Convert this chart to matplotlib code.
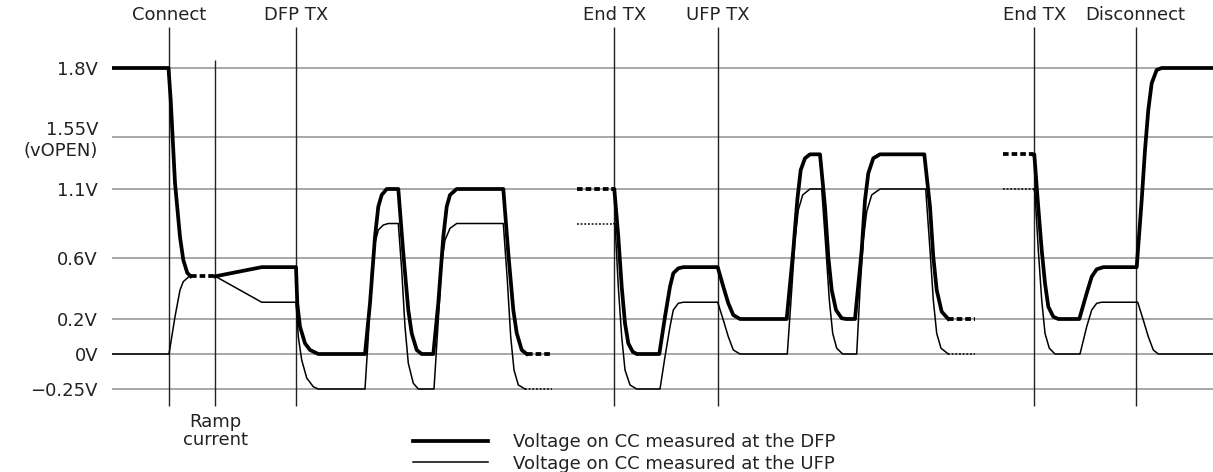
import numpy as np
import matplotlib
matplotlib.use("Agg")
import matplotlib.pyplot as plt
import matplotlib.transforms as mtransforms

plt.rcParams['font.family'] = ['DejaVu Sans']

## Voltage levels drawn as grid lines (the axis is a schematic, not linear)
grid_v = [1.8, 1.55, 1.1, 0.6, 0.2, 0.0, -0.25]
grid_labels = ["1.8V", "1.55V\n(vOPEN)", "1.1V", "0.6V", "0.2V", "0V", "\u22120.25V"]

## Events along the time axis (arbitrary time units)
event_t = [169, 296, 614.3, 717.7, 1034.3, 1135.7]
event_names = ["Connect", "DFP TX", "End TX", "UFP TX", "End TX", "Disconnect"]
ramp_t = 215.3

## Voltage on CC measured at the DFP (thick)
dfp_connect_t = [112, 168.5, 170.7, 175, 180, 183.3, 187.3, 190.7]
dfp_connect_v = [1.8, 1.8, 1.684, 1.152, 0.752, 0.587, 0.502, 0.48]
dfp_tx1_t = [215.3, 261.7, 296, 297.3, 300, 305, 310, 318.3, 365, 370, 375, 378.3, 381.7,
             386.7, 398.3, 403.3, 408.3, 411.7, 416.7, 421.7, 433.3, 438.3, 443.3, 446.7,
             450, 456.7, 503.3, 508.3, 513.3, 516.7, 521.7, 526.7]
dfp_tx1_v = [0.48, 0.54, 0.54, 0.30, 0.156, 0.061, 0.023, 0, 0, 0.303, 0.754, 0.972, 1.057,
             1.1, 1.1, 0.634, 0.259, 0.118, 0.023, 0, 0, 0.305, 0.754, 0.972,
             1.057, 1.1, 1.1, 0.634, 0.259, 0.12, 0.023, 0]
dfp_tx2_t = [613.3, 614.3, 618.3, 621.7, 625, 628.3, 632.7, 636.7, 659.3, 665, 670, 673.3,
             678.3, 683.3, 717.7, 723.3, 728.3, 733.3, 740, 786.7, 793.3, 797.3, 800.7, 805,
             810, 820, 825, 828.3, 831.7, 836, 841.7, 846, 855, 861.7, 865, 868.3, 873.3,
             880, 924.3, 930, 933.3, 936.7, 941.7, 948.3]
dfp_tx2_v = [1.1, 1.1, 0.754, 0.412, 0.175, 0.061, 0.013, 0, 0, 0.215, 0.412, 0.5,
             0.532, 0.54, 0.54, 0.412, 0.303, 0.226, 0.2, 0.2, 0.658, 1.02, 1.264, 1.366,
             1.40, 1.40, 0.972, 0.609, 0.39, 0.259, 0.205, 0.2, 0.2, 0.658, 1.02, 1.236, 1.366,
             1.40, 1.40, 0.972, 0.609, 0.39, 0.248, 0.2]
dfp_end_t = [1033.3, 1034.3, 1037.7, 1041.7, 1045, 1048.3, 1053.3, 1058.3, 1079.3, 1086.7,
             1091.7, 1096.7, 1103.3, 1136.7, 1141.7, 1145, 1148.3, 1151.7, 1156.7, 1161.7, 1213]
dfp_end_v = [1.40, 1.40, 1.02, 0.658, 0.434, 0.281, 0.215, 0.2, 0.2, 0.369,
             0.477, 0.526, 0.54, 0.54, 1.02, 1.437, 1.648, 1.745, 1.793, 1.8, 1.8]
# dashed pieces: (t0, t1, level)
dfp_dash_t0 = [190.7, 526.7, 576.7, 948.3, 1003.3]
dfp_dash_t1 = [215.3, 552, 613.3, 975, 1033.3]
dfp_dash_v = [0.48, 0, 1.1, 0.2, 1.40]

## Voltage on CC measured at the UFP (thin)
ufp_connect_t = [112, 169, 175, 180, 183.3, 189.3]
ufp_connect_v = [0, 0, 0.215, 0.39, 0.445, 0.48]
ufp_tx1_t = [215.3, 261.7, 296, 296.7, 298.3, 301.7, 306.7, 313.3, 318.3, 365, 368.3, 371.7,
             375, 378.3, 383.3, 388.3, 398.3, 401.7, 405, 408.3, 413.3, 418.3, 434, 438.3,
             441.7, 445, 450, 456.7, 503.3, 507.3, 510.7, 514, 518.3, 525]
ufp_tx1_v = [0.48, 0.31, 0.31, 0.239, 0.099, -0.043, -0.171, -0.234, -0.25, -0.25, 0.099, 0.521,
             0.709, 0.803, 0.839, 0.85, 0.85, 0.521, 0.156, -0.066, -0.209, -0.25, -0.25, 0.194,
             0.565, 0.73, 0.815, 0.85, 0.85, 0.456, 0.099, -0.114, -0.221, -0.25]
ufp_tx2_t = [614, 615, 618.3, 621.7, 625, 630, 636.7, 660, 665, 670, 673.3, 678.3, 683.3,
             717.7, 723.3, 728.3, 733.3, 740, 787.3, 791.7, 795, 798.3, 802.7, 810, 821.7,
             826, 829.3, 832.7, 836.7, 842.7, 856.7, 860, 863.3, 866.7, 871.7, 880, 925.7,
             930, 933.3, 936.7, 941, 948.3]
ufp_tx2_v = [0.85, 0.85, 0.412, 0.099, -0.114, -0.221, -0.25, -0.25, -0.019, 0.156, 0.259, 0.303, 0.31,
             0.31, 0.194, 0.099, 0.023, 0, 0, 0.39, 0.73, 0.948, 1.057, 1.1, 1.1,
             0.658, 0.325, 0.118, 0.033, 0, 0, 0.39, 0.73, 0.936, 1.057, 1.1, 1.1,
             0.658, 0.325, 0.118, 0.033, 0]
ufp_end_t = [1034, 1035, 1038.3, 1041.7, 1045, 1049.3, 1055, 1080, 1086.7, 1091.7, 1096.7,
             1101.7, 1137.7, 1143.3, 1148.3, 1153.3, 1158.3, 1213]
ufp_end_v = [1.1, 1.069, 0.658, 0.325, 0.118, 0.033, 0, 0, 0.156, 0.259, 0.303,
             0.31, 0.31, 0.194, 0.099, 0.023, 0, 0]
ufp_dot_t0 = [525, 577, 948.3, 1003]
ufp_dot_t1 = [552, 614, 975, 1034]
ufp_dot_v = [-0.25, 0.85, 0, 1.1]


## schematic (piecewise linear) voltage axis
scale_v = [-2.0, -0.25, 0.0, 0.2, 0.6, 1.1, 1.55, 1.8, 3.0]
scale_pos = [-634, -389, -354, -319, -258, -189, -137, -68, 263.2]


def fwd(v):
    return np.interp(np.asarray(v, dtype=float), scale_v, scale_pos)


def inv(p):
    return np.interp(np.asarray(p, dtype=float), scale_pos, scale_v)


W, H = 1213, 472
fig = plt.figure(figsize=(W / 100, H / 100), dpi=100)
ax = fig.add_axes([112 / W, 0, 1 - 112 / W, 1])
ax.set_yscale('function', functions=(fwd, inv))
ax.set_xlim(112, 1213)
ax.set_ylim(inv(-472), inv(0))
for s in ax.spines.values():
    s.set_visible(False)
ax.set_xticks([])
ax.set_yticks(grid_v, grid_labels)
ax.yaxis.set_minor_locator(matplotlib.ticker.NullLocator())
ax.tick_params(axis='y', length=0, pad=10, labelsize=13, labelcolor='#222222')

for v in grid_v:
    ax.axhline(v, color='#a0a0a0', lw=1.3, zorder=1)

ax.vlines(event_t, -0.37, 1.95, color='#222222', lw=1.0, zorder=2)
ax.vlines([ramp_t], -0.37, 1.83, color='#222222', lw=1.0, zorder=2)

top = mtransforms.blended_transform_factory(ax.transData, ax.transAxes)
for t, name in zip(event_t, event_names):
    ax.text(t, 1 - 14.5 / H, name, transform=top, ha='center', va='center',
            fontsize=13, color='#222222')
ax.text(ramp_t, 1 - 431 / H, "Ramp\ncurrent", transform=top, ha='center', va='center',
        fontsize=13, color='#222222', linespacing=1.05)

thin_lw = 1.1
thick_lw = 2.7
ufp_line, = ax.plot(ufp_connect_t, ufp_connect_v, color='black', lw=thin_lw, zorder=3)
for tt, vv in [(ufp_tx1_t, ufp_tx1_v), (ufp_tx2_t, ufp_tx2_v), (ufp_end_t, ufp_end_v)]:
    ax.plot(tt, vv, color='black', lw=thin_lw, zorder=3, solid_joinstyle='round')
for t0, t1, v in zip(ufp_dot_t0, ufp_dot_t1, ufp_dot_v):
    ax.plot([t0, t1], [v, v], color='black', lw=thin_lw, ls=(0, (1.2, 1.2)), zorder=3)

dfp_line, = ax.plot(dfp_connect_t, dfp_connect_v, color='black', lw=thick_lw, zorder=4,
                    solid_joinstyle='round')
for tt, vv in [(dfp_tx1_t, dfp_tx1_v), (dfp_tx2_t, dfp_tx2_v), (dfp_end_t, dfp_end_v)]:
    ax.plot(tt, vv, color='black', lw=thick_lw, zorder=4, solid_joinstyle='round')
for t0, t1, v in zip(dfp_dash_t0, dfp_dash_t1, dfp_dash_v):
    ax.plot([t0, t1], [v, v], color='black', lw=thick_lw, ls=(0, (1.5, 0.8)), zorder=4)

leg = ax.legend([dfp_line, ufp_line],
                ["Voltage on CC measured at the DFP", "Voltage on CC measured at the UFP"],
                loc='center left', bbox_to_anchor=(413 / W, 1 - 453 / H),
                bbox_transform=fig.transFigure, frameon=False, fontsize=13,
                handlelength=4.15, handletextpad=1.38, borderpad=0, borderaxespad=0,
                labelspacing=0.2)
for txt in leg.get_texts():
    txt.set_color('#222222')

fig.savefig("out.png", dpi=100)
